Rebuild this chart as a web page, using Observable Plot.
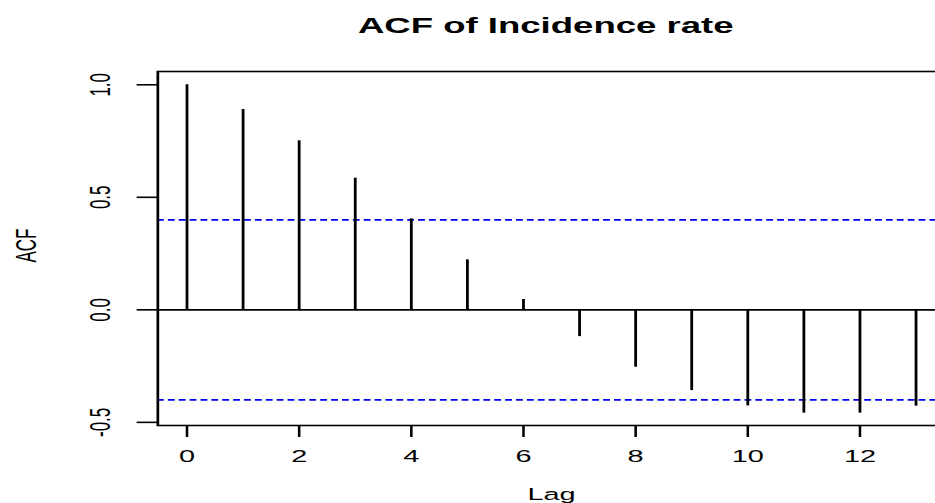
<!DOCTYPE html>
<html><head><meta charset="utf-8">
<script src="https://cdn.jsdelivr.net/npm/d3@7"></script>
<script src="https://cdn.jsdelivr.net/npm/@observablehq/plot@0.6"></script>
<style>
html,body{margin:0;padding:0;background:#fff;overflow:hidden;}
#chart svg{display:block;}
</style></head><body><div id="chart"></div>
<script>
const titleText = "ACF of Incidence rate";
const xLabel = "Lag";
const yLabel = "ACF";
const lags = [0, 1, 2, 3, 4, 5, 6, 7, 8, 9, 10, 11, 12, 13];
const acf = [1.000, 0.890, 0.751, 0.585, 0.404, 0.222, 0.046, -0.119, -0.255, -0.359, -0.427, -0.459, -0.459, -0.428];
const ciBound = 0.4;
const xTicks = [0, 2, 4, 6, 8, 10, 12];
const xTickLabels = ["0", "2", "4", "6", "8", "10", "12"];
const yTicks = [-0.5, 0, 0.5, 1.0];
const yTickLabels = ["-0.5", "0.0", "0.5", "1.0"];

const data = lags.map((lag, i) => ({lag, acf: acf[i]}));
const W0 = 550, H = 503;
const font = "'Liberation Sans', Arial, Helvetica, sans-serif";

const plot = Plot.plot({
  width: W0, height: H,
  marginLeft: 92.35, marginRight: -5.5, marginTop: 71, marginBottom: 78,
  style: {fontFamily: font, fontSize: "17px", background: "white", color: "black"},
  x: {domain: [-0.52, 13.52]},
  y: {domain: [-0.514, 1.059]},
  marks: [
    Plot.ruleY([ciBound, -ciBound], {stroke: "#0000ee", strokeWidth: 1.8, strokeDasharray: "4,2.4"}),
    Plot.ruleY([0], {stroke: "black", strokeWidth: 1.6}),
    Plot.ruleX(data, {x: "lag", y1: 0, y2: "acf", stroke: "black", strokeWidth: 1.65}),
    Plot.frame({stroke: "black", strokeWidth: 1.6}),
    Plot.axisX({ticks: xTicks, tickSize: 12, tickFormat: () => "", label: null, strokeWidth: 1.5}),
    Plot.axisY({ticks: yTicks, tickSize: 12, tickFormat: () => "", label: null, strokeWidth: 1.6}),
    Plot.text(xTicks, {x: d => d, text: (d, i) => xTickLabels[i], frameAnchor: "bottom", dy: 31, lineAnchor: "middle", textAnchor: "middle", fontSize: 17}),
    Plot.text(yTicks, {y: d => d, text: (d, i) => yTickLabels[i], frameAnchor: "left", dx: -33.5, rotate: -90, textAnchor: "middle", lineAnchor: "middle", fontSize: 17}),
    Plot.text([titleText], {text: d => d, frameAnchor: "top", dy: -38.7, dx: -3.4, lineAnchor: "bottom", textAnchor: "middle", fontWeight: "bold", fontSize: 21.5}),
    Plot.text([xLabel], {text: d => d, frameAnchor: "bottom", dy: 74, lineAnchor: "bottom", textAnchor: "middle", fontSize: 17}),
    Plot.text([yLabel], {text: d => d, frameAnchor: "left", dx: -77, dy: -3, rotate: -90, lineAnchor: "middle", textAnchor: "middle", fontSize: 17})
  ]
});
const svg = plot.tagName.toLowerCase() === "svg" ? plot : plot.querySelector("svg");
svg.setAttribute("viewBox", `0 0 ${W0} ${H}`);
svg.setAttribute("preserveAspectRatio", "none");
svg.setAttribute("width", 935);
svg.setAttribute("height", H);
svg.style.width = "935px";
svg.style.height = H + "px";
svg.style.maxWidth = "none";
svg.style.overflow = "hidden";
document.getElementById("chart").appendChild(plot);
</script>
</body></html>
